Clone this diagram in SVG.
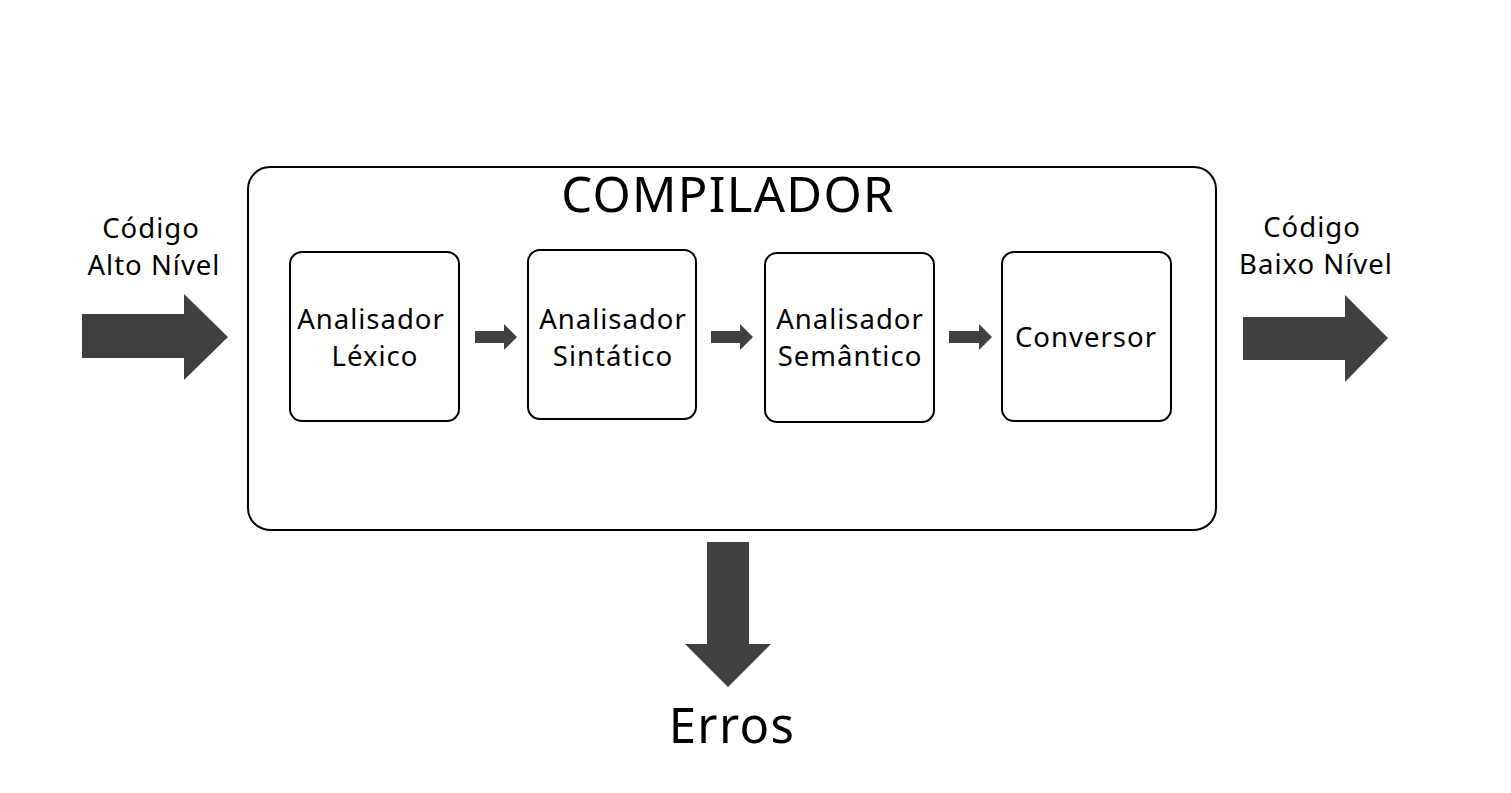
<svg xmlns="http://www.w3.org/2000/svg" width="1511" height="793" viewBox="0 0 1511 793">
<style>
.box{fill:#fff;stroke:#000;stroke-width:2}
.t{font-family:"Noto Sans","Open Sans",sans-serif;fill:#000;text-anchor:middle}
.m{font-size:27.5px;letter-spacing:1px}
.big{font-size:49px;letter-spacing:1.3px}
.arr{fill:#404040}
</style>
<rect width="1511" height="793" fill="#fff"/>
<g id="compilador">
<rect class="box" x="248" y="167" width="968" height="363" rx="22"/>
<text class="t big" x="728" y="212">COMPILADOR</text>
</g>
<g id="lexico">
<rect class="box" x="290" y="252" width="169" height="169" rx="12"/>
<text class="t m" x="371" y="329">Analisador</text>
<text class="t m" x="375" y="366">Léxico</text>
</g>
<g id="sintatico">
<rect class="box" x="528" y="250" width="168" height="169" rx="12"/>
<text class="t m" x="613" y="329">Analisador</text>
<text class="t m" x="613" y="366">Sintático</text>
</g>
<g id="semantico">
<rect class="box" x="765" y="253" width="169" height="169" rx="12"/>
<text class="t m" x="850" y="329">Analisador</text>
<text class="t m" x="850" y="366">Semântico</text>
</g>
<g id="conversor">
<rect class="box" x="1002" y="252" width="169" height="169" rx="12"/>
<text class="t m" x="1086" y="347">Conversor</text>
</g>
<g id="entrada">
<text class="t m" x="151" y="238">Código</text>
<text class="t m" x="154" y="275">Alto Nível</text>
</g>
<g id="saida">
<text class="t m" x="1312" y="237">Código</text>
<text class="t m" x="1316" y="274">Baixo Nível</text>
</g>
<g id="erros">
<text class="t big" x="732" y="743">Erros</text>
</g>
<g id="connectors">
<polygon class="arr" points="82,314 184,314 184,294 228,337 184,380 184,358 82,358"/>
<polygon class="arr" points="1243,317 1345,317 1345,295 1388,338 1345,382 1345,360 1243,360"/>
<polygon class="arr" points="707,542 749,542 749,644 771,644 728,687 685,644 707,644"/>
<polygon class="arr" points="475,331 504,331 504,324 517,337 504,350 504,343 475,343"/>
<polygon class="arr" points="711,331 740,331 740,324 753,337 740,350 740,343 711,343"/>
<polygon class="arr" points="949,331 979,331 979,324 992,337 979,350 979,343 949,343"/>
</g>
</svg>
